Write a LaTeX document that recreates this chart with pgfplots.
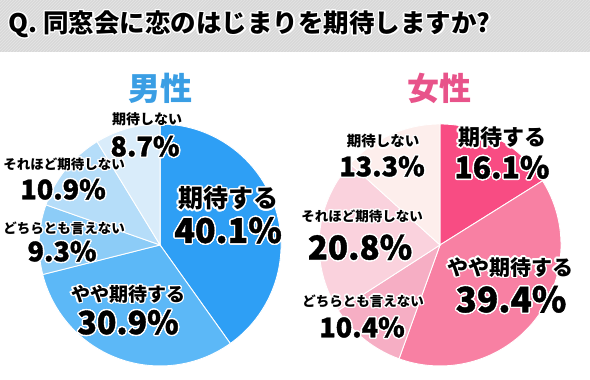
\documentclass[border=0pt]{standalone}
\usepackage{pgfplots}
\pgfplotsset{compat=1.18}
\usepackage{pgfplotstable}
\usepackage{fontspec}
\setmainfont{Noto Sans CJK JP}
\newfontfamily\heavy{Noto Sans CJK JP}[BoldFeatures={FakeBold=1.2}]
\usepackage{contour}
\contourlength{1.4pt}
\usetikzlibrary{patterns}

\definecolor{M0}{HTML}{2E9FF5}
\definecolor{M1}{HTML}{5CB8F7}
\definecolor{M2}{HTML}{8CCCF7}
\definecolor{M3}{HTML}{B5DDF9}
\definecolor{M4}{HTML}{D9ECFA}
\definecolor{F0}{HTML}{F84C83}
\definecolor{F1}{HTML}{F880A3}
\definecolor{F2}{HTML}{F6AEC4}
\definecolor{F3}{HTML}{FAD2DD}
\definecolor{F4}{HTML}{FDEEEC}
\definecolor{maleblue}{HTML}{3A9EE4}
\definecolor{femalepink}{HTML}{E8538A}
\definecolor{band}{HTML}{D8D8D8}
\definecolor{bandline}{HTML}{E6E6E6}

% order: 期待する, やや期待する, どちらとも言えない, それほど期待しない, 期待しない
\pgfplotstableread{
value
40.1
30.9
9.3
10.9
8.7
}\maledata
\pgfplotstableread{
value
16.1
39.4
10.4
20.8
13.3
}\femaledata
\pgfplotstablecreatecol[create col/expr accum={\pgfmathaccuma + \thisrow{value}}{0}]{cum}\maledata
\pgfplotstablecreatecol[create col/expr accum={\pgfmathaccuma + \thisrow{value}}{0}]{cum}\femaledata

\newcommand\pieslices[5]{% table, colour prefix, cx, cy, total
  \pgfplotsinvokeforeach{0,...,4}{%
    \pgfplotstablegetelem{##1}{cum}\of#1\let\cumv\pgfplotsretval
    \pgfplotstablegetelem{##1}{value}\of#1\let\val\pgfplotsretval
    \pgfmathsetmacro\angB{90-\cumv*(360/#5)}%
    \pgfmathsetmacro\angA{\angB+\val*(360/#5)}%
    \edef\tmp{\noexpand\filldraw[#2##1, draw=white, line width=0.9pt]
      (axis cs:#3,#4) -- ++(\angA:121pt)
      arc[start angle=\angA, end angle=\angB, radius=121pt] -- cycle;}%
    \tmp
  }%
}

\newcommand\fs[1]{\bfseries\fontsize{#1}{#1}\selectfont}
\newcommand\fh[1]{\heavy\bfseries\fontsize{#1}{#1}\selectfont}

\begin{document}
\begin{tikzpicture}
\begin{axis}[
  x=1pt, y=1pt, xmin=0, xmax=590, ymin=0, ymax=380,
  y dir=reverse, hide axis, scale only axis, clip=false,
  anchor=origin, at={(0,0)}]
\path (axis cs:0,0) rectangle (axis cs:590,380);
% title band
\fill[band] (axis cs:0,0) rectangle (axis cs:590,52);
\fill[pattern=north east lines, pattern color=bandline] (axis cs:0,0) rectangle (axis cs:590,52);
\node[anchor=west, font=\fs{25.5}] at (axis cs:5,25) {\contour{white}{Q. 同窓会に恋のはじまりを期待しますか?}};

% pies
\pieslices{\maledata}{M}{160}{245}{99.9}
\pieslices{\femaledata}{F}{440}{245}{100}

% headings
\node[font=\fs{32}, text=maleblue] at (axis cs:160,88) {男性};
\node[font=\fs{32}, text=femalepink] at (axis cs:439,88) {女性};

% male labels
\node[font=\fs{25}] at (axis cs:228,199) {\contour{white}{期待する}};
\node[font=\fh{34}] at (axis cs:228,231) {\contour{white}{40.1\%}};
\node[font=\fs{19}] at (axis cs:128,295) {\contour{white}{やや期待する}};
\node[font=\fh{32}] at (axis cs:128,323) {\contour{white}{30.9\%}};
\node[font=\fs{13.5}] at (axis cs:64,229) {\contour{white}{どちらとも言えない}};
\node[font=\fh{27}] at (axis cs:62,252) {\contour{white}{9.3\%}};
\node[font=\fs{13.5}] at (axis cs:64,165) {\contour{white}{それほど期待しない}};
\node[font=\fh{27}] at (axis cs:63,190) {\contour{white}{10.9\%}};
\node[font=\fs{14}] at (axis cs:147,120) {\contour{white}{期待しない}};
\node[font=\fh{27}] at (axis cs:145,147) {\contour{white}{8.7\%}};

% female labels
\node[font=\fs{22}] at (axis cs:502,138) {\contour{white}{期待する}};
\node[font=\fh{30}] at (axis cs:502,168) {\contour{white}{16.1\%}};
\node[font=\fs{21}] at (axis cs:510,268) {\contour{white}{やや期待する}};
\node[font=\fh{35}] at (axis cs:511,300) {\contour{white}{39.4\%}};
\node[font=\fs{14.5}] at (axis cs:383,142) {\contour{white}{期待しない}};
\node[font=\fh{27}] at (axis cs:382,167) {\contour{white}{13.3\%}};
\node[font=\fs{13.5}] at (axis cs:362,217) {\contour{white}{それほど期待しない}};
\node[font=\fh{33}] at (axis cs:360,248) {\contour{white}{20.8\%}};
\node[font=\fs{13.5}] at (axis cs:363,302) {\contour{white}{どちらとも言えない}};
\node[font=\fh{27}] at (axis cs:362,328) {\contour{white}{10.4\%}};
\end{axis}
\end{tikzpicture}
\end{document}
